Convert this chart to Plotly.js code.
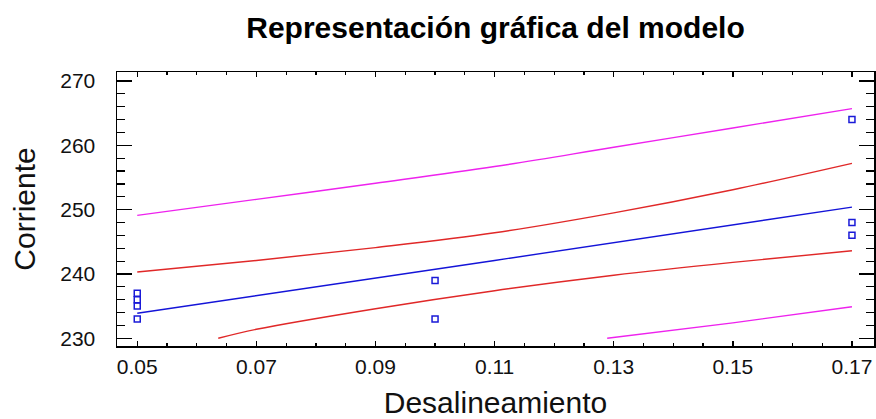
<!DOCTYPE html>
<html>
<head>
<meta charset="utf-8">
<script src="https://cdn.plot.ly/plotly-3.0.1.min.js"></script>
<style>html,body{margin:0;padding:0;background:#fff;}#chart{width:876px;height:419px;}</style>
</head>
<body>
<div id="chart"></div>
<script>
// Observed data points
const obsX = [0.05, 0.05, 0.05, 0.05, 0.10, 0.10, 0.17, 0.17, 0.17];
const obsY = [237, 236, 235, 233, 239, 233, 264, 248, 246];

// Fitted model line
const fitX = [0.05, 0.11, 0.17];
const fitY = [233.9, 242.1, 250.4];

// Confidence limits (red)
const confUpX = [0.05, 0.07, 0.09, 0.11, 0.13, 0.15, 0.17];
const confUpY = [240.3, 242.1, 244.1, 246.4, 249.5, 253.1, 257.2];
const confLoX = [0.0636, 0.07, 0.09, 0.11, 0.13, 0.15, 0.17];
const confLoY = [230.0, 231.4, 234.6, 237.4, 239.8, 241.8, 243.6];

// Prediction limits (magenta)
const predUpX = [0.05, 0.07, 0.09, 0.11, 0.13, 0.15, 0.17];
const predUpY = [249.1, 251.6, 254.1, 256.7, 259.7, 262.7, 265.7];
const predLoX = [0.1289, 0.15, 0.17];
const predLoY = [230.0, 232.4, 234.9];

const FONT = "Liberation Sans, Arial, sans-serif";

const lineTrace = (x, y, color) => ({
  x: x, y: y, type: 'scatter', mode: 'lines',
  line: {color: color, width: 1.4, shape: 'spline', smoothing: 1},
  hoverinfo: 'skip', showlegend: false
});

const data = [
  lineTrace(predUpX, predUpY, '#ee22ee'),
  lineTrace(predLoX, predLoY, '#ee22ee'),
  lineTrace(confUpX, confUpY, '#e02828'),
  lineTrace(confLoX, confLoY, '#e02828'),
  lineTrace(fitX, fitY, '#1414d8'),
  {
    x: obsX, y: obsY, type: 'scatter', mode: 'markers',
    marker: {symbol: 'square-open', size: 6, color: '#1a1ad8', line: {width: 1.5}},
    showlegend: false
  }
];

const layout = {
  width: 876, height: 419,
  margin: {l: 117, r: 2, t: 72, b: 73},
  paper_bgcolor: '#ffffff', plot_bgcolor: '#ffffff',
  showlegend: false,
  font: {family: FONT, color: '#111'},
  title: {
    text: '<b>Representación gráfica del modelo</b>',
    font: {family: FONT, size: 30, color: '#000'},
    x: 0.5, xref: 'paper', xanchor: 'center',
    y: 0.935, yref: 'container', yanchor: 'middle'
  },
  xaxis: {
    range: [0.0466, 0.1737],
    tick0: 0.05, dtick: 0.02, tickformat: '.2f',
    ticks: 'inside', ticklen: 5, tickwidth: 1.5, tickcolor: '#000',
    minor: {dtick: 0.005, ticks: 'inside', ticklen: 3, tickwidth: 1.2, tickcolor: '#000', showgrid: false},
    showline: true, linecolor: '#000', linewidth: 1.5, mirror: 'ticks',
    showgrid: false, zeroline: false,
    tickfont: {family: FONT, size: 21, color: '#111'},
    ticklabelstandoff: 1,
    title: {text: 'Desalineamiento', font: {family: FONT, size: 30, color: '#111'}, standoff: 15}
  },
  yaxis: {
    range: [228.8, 271.4],
    tick0: 230, dtick: 10,
    ticks: 'inside', ticklen: 15, tickwidth: 1.5, tickcolor: '#000',
    minor: {dtick: 2, ticks: 'inside', ticklen: 8, tickwidth: 1.2, tickcolor: '#000', showgrid: false},
    showline: true, linecolor: '#000', linewidth: 1.5, mirror: 'ticks',
    showgrid: false, zeroline: false,
    tickfont: {family: FONT, size: 21, color: '#111'},
    ticklabelstandoff: 16,
    title: {text: 'Corriente', font: {family: FONT, size: 30, color: '#111'}, standoff: 16}
  }
};

Plotly.newPlot('chart', data, layout, {displayModeBar: false, staticPlot: true});
</script>
</body>
</html>
